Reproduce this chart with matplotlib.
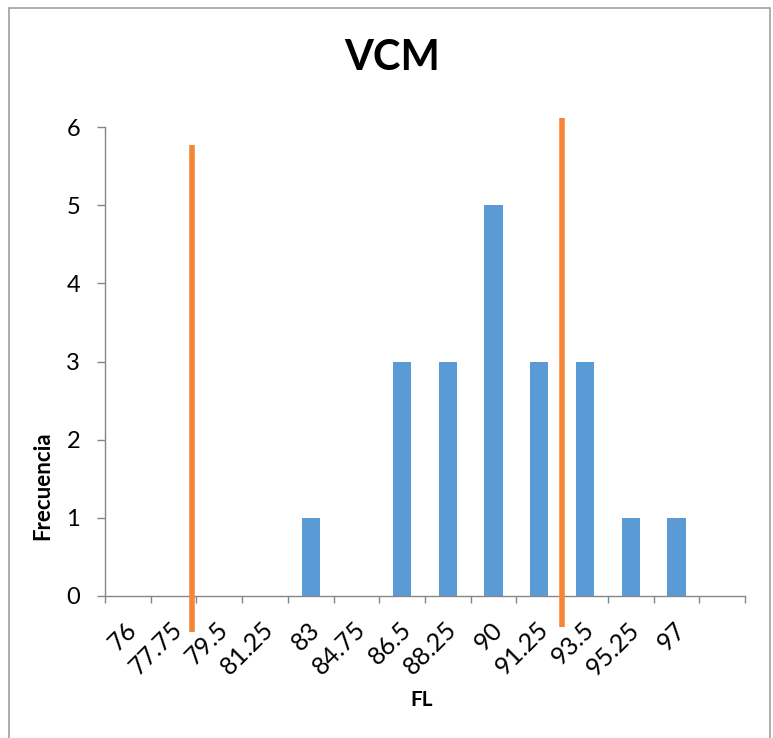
import numpy as np
import matplotlib
matplotlib.use('Agg')
import matplotlib.pyplot as plt
from matplotlib.patches import Rectangle

plt.rcParams['font.family'] = ['Lato', 'DejaVu Sans']

clases = ['76', '77.75', '79.5', '81.25', '83', '84.75', '86.5', '88.25',
          '90', '91.25', '93.5', '95.25', '97', '']
frecuencia = [0, 0, 0, 0, 1, 0, 3, 3, 5, 3, 3, 1, 1, 0]

# limites marcados en naranja (posicion sobre el eje de clases, altura)
lim_x = [1.40, 9.50]
lim_y0 = [-0.46, -0.40]
lim_y1 = [5.77, 6.11]

W, H = 773, 738
fig = plt.figure(figsize=(W / 100, H / 100), dpi=100)
ax = fig.add_axes([105 / W, 1 - 596 / H, 640 / W, 469 / H])

x = np.arange(len(clases))
ax.bar(x, frecuencia, width=0.4, color='#5B9BD5', zorder=2)

for xi, a, b in zip(lim_x, lim_y0, lim_y1):
    ax.plot([xi, xi], [a, b], color='#F58634', lw=4, solid_capstyle='butt',
            clip_on=False, zorder=3)

ax.set_xlim(-0.5, len(clases) - 0.5)
ax.set_ylim(0, 6)
ax.set_yticks(range(7))
ax.tick_params(axis='y', labelsize=17, length=6, width=1, color='#868686', pad=12)

# marcas entre clases, etiquetas giradas bajo cada clase
ax.set_xticks(np.arange(-0.5, len(clases), 1.0))
ax.set_xticklabels([])
ax.tick_params(axis='x', which='major', length=5, width=1, color='#868686')
ax.set_xticks(x + 0.11, minor=True)
ax.set_xticklabels(clases, minor=True, rotation=45, ha='right', va='center',
                   rotation_mode='anchor', fontsize=18)
ax.tick_params(axis='x', which='minor', length=0, pad=21.5)

for s in ['top', 'right']:
    ax.spines[s].set_visible(False)
for s in ['left', 'bottom']:
    ax.spines[s].set_color('#868686')
    ax.spines[s].set_linewidth(1)

fig.text(392 / W, 1 - 58 / H, 'VCM', ha='center', va='center',
         fontsize=30, fontweight='bold')
fig.text(43 / W, 1 - 486 / H, 'Frecuencia', ha='center', va='center',
         rotation=90, fontsize=16, fontweight='bold')
fig.text(422 / W, 1 - 700 / H, 'FL', ha='center', va='center',
         fontsize=15, fontweight='bold')

# marco del grafico
fig.patches.append(Rectangle((9 / W, -0.05), 761 / W, 1.05 - 8 / H,
                             transform=fig.transFigure, fill=False,
                             edgecolor='#A0A0A0', lw=1.2))

plt.savefig('out.png', dpi=100)
